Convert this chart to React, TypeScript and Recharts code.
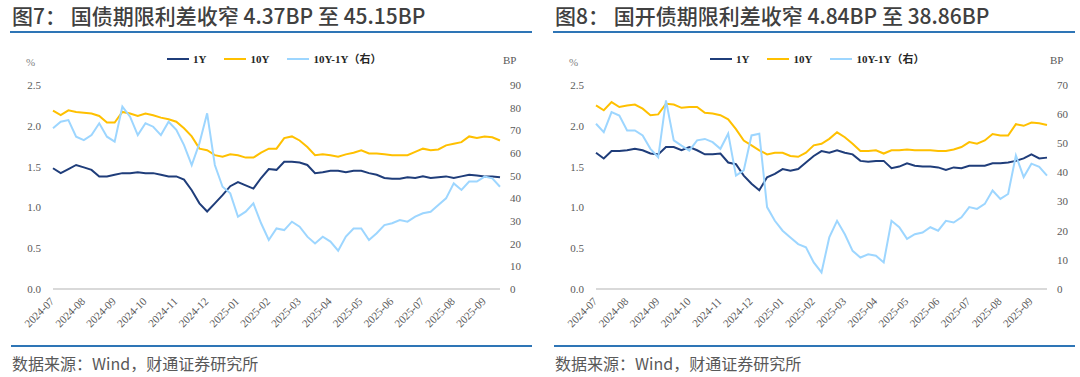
import React from 'react';
import { LineChart, Line, XAxis, YAxis } from 'recharts';

// Month tick labels (x axis)
const MONTHS = [
  '2024-07', '2024-08', '2024-09', '2024-10', '2024-11', '2024-12',
  '2025-01', '2025-02', '2025-03', '2025-04', '2025-05', '2025-06',
  '2025-07', '2025-08', '2025-09',
];
const POINTS_PER_MONTH = 4; // weekly observations

// 图7 国债 (%, %, BP)
const GZ_1Y = [
  1.48, 1.42, 1.47, 1.52, 1.49, 1.46, 1.38, 1.38, 1.40, 1.42, 1.42, 1.43, 1.42, 1.42, 1.40,
  1.38, 1.38, 1.34, 1.21, 1.05, 0.95, 1.05, 1.15, 1.26, 1.31, 1.27, 1.23, 1.36, 1.47, 1.46,
  1.56, 1.56, 1.55, 1.52, 1.42, 1.43, 1.45, 1.45, 1.43, 1.45, 1.45, 1.42, 1.40, 1.36, 1.35,
  1.35, 1.37, 1.36, 1.38, 1.36, 1.37, 1.38, 1.36, 1.38, 1.40, 1.39, 1.38, 1.38, 1.37,
];
const GZ_10Y = [
  2.185, 2.13, 2.19, 2.17, 2.16, 2.15, 2.12, 2.04, 2.04, 2.17, 2.15, 2.12, 2.15, 2.13, 2.10,
  2.08, 2.05, 1.97, 1.87, 1.72, 1.70, 1.64, 1.62, 1.65, 1.64, 1.61, 1.61, 1.67, 1.72, 1.72,
  1.85, 1.87, 1.82, 1.74, 1.64, 1.65, 1.64, 1.62, 1.65, 1.67, 1.70, 1.66, 1.66, 1.65, 1.64,
  1.64, 1.64, 1.68, 1.72, 1.70, 1.71, 1.76, 1.78, 1.80, 1.87, 1.85, 1.87, 1.86, 1.82,
];
const GZ_SPREAD = [
  70.9, 73.8, 74.5, 67.2, 65.7, 67.9, 73.1, 67.2, 65.0, 80.5, 76.0, 67.9, 73.1, 71.6, 67.9,
  73.8, 70.2, 63.5, 54.7, 64.3, 77.5, 54.7, 45.1, 42.2, 31.9, 34.1, 37.8, 29.0, 21.6, 26.7,
  26.0, 29.7, 27.5, 23.1, 20.1, 23.1, 20.9, 16.9, 23.1, 26.7, 26.7, 21.6, 24.6, 28.2, 29.0,
  30.4, 29.7, 31.9, 33.4, 34.1, 37.1, 40.0, 46.6, 43.7, 47.4, 47.4, 49.6, 48.8, 45.1,
];

// 图8 国开债 (%, %, BP)
const GK_1Y = [
  1.67, 1.60, 1.69, 1.69, 1.70, 1.72, 1.70, 1.66, 1.65, 1.74, 1.74, 1.70, 1.74, 1.70, 1.65,
  1.65, 1.66, 1.55, 1.53, 1.39, 1.29, 1.21, 1.37, 1.41, 1.47, 1.45, 1.47, 1.55, 1.63, 1.69,
  1.67, 1.70, 1.67, 1.65, 1.57, 1.56, 1.57, 1.57, 1.48, 1.50, 1.54, 1.51, 1.50, 1.50, 1.49,
  1.46, 1.49, 1.48, 1.51, 1.51, 1.51, 1.54, 1.54, 1.55, 1.57, 1.60, 1.65, 1.60, 1.61,
];
const GK_10Y = [
  2.25, 2.19, 2.29, 2.23, 2.25, 2.26, 2.21, 2.13, 2.14, 2.27, 2.26, 2.22, 2.23, 2.23, 2.16,
  2.15, 2.13, 2.08, 1.96, 1.82, 1.76, 1.70, 1.65, 1.67, 1.67, 1.63, 1.62, 1.67, 1.76, 1.78,
  1.84, 1.92, 1.86, 1.78, 1.69, 1.69, 1.70, 1.66, 1.70, 1.70, 1.71, 1.70, 1.70, 1.70, 1.69,
  1.69, 1.71, 1.74, 1.80, 1.78, 1.82, 1.90, 1.88, 1.88, 2.02, 2.00, 2.04, 2.03, 2.01,
];
const GK_SPREAD = [
  56.7, 53.8, 60.7, 59.5, 54.4, 54.4, 52.7, 48.1, 45.2, 64.7, 51.0, 49.2, 47.5, 51.0, 51.5,
  50.4, 48.1, 53.3, 38.9, 40.7, 52.7, 53.3, 28.1, 23.4, 20.0, 17.7, 15.4, 14.3, 9.1, 5.7,
  17.7, 23.4, 18.8, 13.1, 10.8, 11.9, 11.4, 9.1, 23.4, 21.2, 17.2, 18.8, 19.4, 21.2, 20.0,
  23.4, 22.8, 24.6, 28.1, 27.5, 29.2, 33.8, 30.9, 32.6, 45.8, 38.4, 43.0, 41.9, 38.9,
];

const LEFT_TICKS = [0, 0.5, 1, 1.5, 2, 2.5];
const GZ_RIGHT_TICKS = [0, 10, 20, 30, 40, 50, 60, 70, 80, 90];
const GK_RIGHT_TICKS = [0, 10, 20, 30, 40, 50, 60, 70];

const SERIES_NAMES = ['1Y', '10Y', '10Y-1Y（右）'];
const COLORS = ['#1F3D7A', '#FFC000', '#9DD6FF'];

const SERIF = "'Liberation Serif', 'Noto Sans CJK SC', serif";
const SANS = "'Noto Sans CJK SC', 'Noto Sans', sans-serif";
const RULE = '#2E75B6';

function buildRows(a: number[], b: number[], c: number[]) {
  return a.map((v, i) => ({ x: i / POINTS_PER_MONTH, y1: v, y10: b[i], sp: c[i] }));
}

const XTick = (props: any) => {
  const { x, y, payload } = props;
  const ax = x + 2;
  const ay = y + 13;
  return (
    <text
      x={ax}
      y={ay}
      textAnchor="end"
      transform={`rotate(-45 ${ax} ${ay})`}
      fontSize={11}
      fill="#595959"
      fontFamily={SERIF}
    >
      {MONTHS[payload.value]}
    </text>
  );
};

type PanelProps = {
  left: number;
  title: string;
  a: number[];
  b: number[];
  c: number[];
  rightTicks: number[];
  rightMargin: number;
};

function Panel({ left, title, a, b, c, rightTicks, rightMargin }: PanelProps) {
  const rows = buildRows(a, b, c);
  const xMax = (a.length - 1) / POINTS_PER_MONTH;
  const tickStyle = { fontSize: 11, fill: '#595959', fontFamily: SERIF };
  return (
    <div style={{ position: 'absolute', left, top: 0, width: 540, height: 377 }}>
      <div
        style={{
          position: 'absolute', left: 12, top: 3, fontFamily: SANS, fontSize: 21, fontWeight: 500,
          lineHeight: '24px', color: '#404040', whiteSpace: 'nowrap',
        }}
      >
        {title}
      </div>
      <div style={{ position: 'absolute', left: 10, top: 31, width: 522, height: 2, background: RULE }} />
      <div style={{ position: 'absolute', left: 11, top: 345, width: 521, height: 2, background: RULE }} />
      <div
        style={{
          position: 'absolute', left: 12, top: 353, fontFamily: SANS, fontSize: 16,
          lineHeight: '20px', color: '#595959', whiteSpace: 'nowrap',
        }}
      >
        数据来源：Wind，财通证券研究所
      </div>
      <div style={{ position: 'absolute', left: 26, top: 56, fontFamily: SERIF, fontSize: 11, color: '#7f7f7f' }}>%</div>
      <div style={{ position: 'absolute', left: 503 + (rightMargin === 10 ? 0 : 4), top: 54, fontFamily: SERIF, fontSize: 11, color: '#595959' }}>BP</div>
      <div
        style={{
          position: 'absolute', left: 167, top: 52, display: 'flex', alignItems: 'center',
          fontFamily: SERIF, fontSize: 11, color: '#262626', fontWeight: 600,
        }}
      >
        {SERIES_NAMES.map((n, i) => (
          <div key={n} style={{ display: 'flex', alignItems: 'center', marginRight: 18 }}>
            <div style={{ width: 22, height: 2.5, background: COLORS[i], marginRight: 4 }} />
            <span style={{ lineHeight: '14px' }}>{n}</span>
          </div>
        ))}
      </div>
      <div style={{ position: 'absolute', left: 0, top: 0 }}>
        <LineChart
          width={540}
          height={340}
          data={rows}
          margin={{ top: 85, right: rightMargin, bottom: 6, left: 13 }}
        >
          <XAxis
            dataKey="x"
            type="number"
            domain={[0, xMax]}
            ticks={MONTHS.map((_, i) => i)}
            interval={0}
            height={45}
            tickSize={0}
            tickMargin={0}
            tickLine={false}
            axisLine={{ stroke: '#d9d9d9', strokeWidth: 2 }}
            tick={<XTick />}
          />
          <YAxis
            yAxisId="L"
            domain={[0, 2.5]}
            ticks={LEFT_TICKS}
            width={40}
            tickSize={0}
            tickMargin={12}
            tickLine={false}
            axisLine={false}
            tick={tickStyle}
            tickFormatter={(v: number) => v.toFixed(1)}
          />
          <YAxis
            yAxisId="R"
            orientation="right"
            domain={[0, rightTicks[rightTicks.length - 1]]}
            ticks={rightTicks}
            width={30}
            tickSize={0}
            tickMargin={10}
            tickLine={false}
            axisLine={false}
            tick={{ ...tickStyle, textAnchor: 'start' }}
          />
          <Line yAxisId="L" dataKey="y1" stroke={COLORS[0]} strokeWidth={2} dot={false} isAnimationActive={false} />
          <Line yAxisId="L" dataKey="y10" stroke={COLORS[1]} strokeWidth={2} dot={false} isAnimationActive={false} />
          <Line yAxisId="R" dataKey="sp" stroke={COLORS[2]} strokeWidth={2} dot={false} isAnimationActive={false} />
        </LineChart>
      </div>
    </div>
  );
}

export default function App() {
  return (
    <div style={{ position: 'absolute', left: 0, top: 0, width: 1080, height: 377, background: '#fff', overflow: 'hidden' }}>
      <Panel
        left={0}
        title="图7： 国债期限利差收窄 4.37BP 至 45.15BP"
        a={GZ_1Y}
        b={GZ_10Y}
        c={GZ_SPREAD}
        rightTicks={GZ_RIGHT_TICKS}
        rightMargin={10}
      />
      <Panel
        left={543}
        title="图8： 国开债期限利差收窄 4.84BP 至 38.86BP"
        a={GK_1Y}
        b={GK_10Y}
        c={GK_SPREAD}
        rightTicks={GK_RIGHT_TICKS}
        rightMargin={6}
      />
    </div>
  );
}
